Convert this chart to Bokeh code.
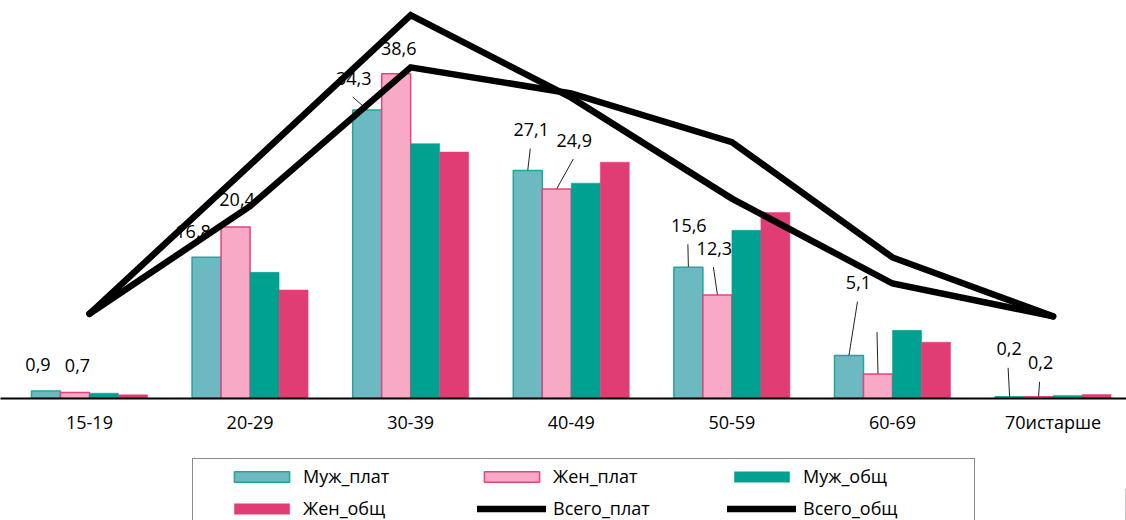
from bokeh.plotting import figure
from bokeh.layouts import column
from bokeh.models import Range1d, Legend, LegendItem, FixedTicker, ColumnDataSource
from bokeh.core.properties import value
from bokeh.embed import file_html
from bokeh.resources import INLINE

# ---------------- data ----------------
categories = ["15-19", "20-29", "30-39", "40-49", "50-59", "60-69", "70истарше"]
muzh_plat = [0.9, 16.8, 34.3, 27.1, 15.6, 5.1, 0.2]
zhen_plat = [0.7, 20.4, 38.6, 24.9, 12.3, 2.9, 0.2]
muzh_obshch = [0.63, 15.0, 30.3, 25.6, 20.0, 8.1, 0.36]
zhen_obshch = [0.44, 12.9, 29.3, 28.1, 22.1, 6.7, 0.48]
vsego_plat = [0.8, 18.5, 36.3, 26.5, 14.5, 4.4, 0.5]
vsego_obshch = [0.8, 13.6, 30.1, 27.0, 21.2, 7.5, 0.5]

# which data labels are shown (Муж_плат, Жен_плат)
show_label_m = [True, True, True, True, True, True, True]
show_label_f = [True, True, True, True, True, False, True]
leader_m = [False, False, True, True, True, True, True]
leader_f = [False, False, False, True, True, True, True]

# ---------------- layout / style ----------------
W = 1126
H_MAIN, FRAME_H = 457, 398
H_LEG = 63
X0, X1 = -0.554, 6.457
Y0, Y1 = 0.0, 47.32
Y2_0, Y2_1 = -9.27, 38.05
BAR_W = 0.1806
offsets = [-1.5 * BAR_W, -0.5 * BAR_W, 0.5 * BAR_W, 1.5 * BAR_W]
FONT = "Open Sans"

# label offsets in pixels (dx, dy) from the top centre of the bar
lab_off_m = [(-8, -26), (-13.5, -26), (-13.5, -32), (3.5, -41), (0.5, -42), (9.5, -73), (-0.5, -48)]
lab_off_f = [(2.5, -27), (1.5, -27), (2.5, -25), (17.5, -49), (-3, -47), (0, -61), (2, -34)]

px_x = (X1 - X0) / W
px_y = (Y1 - Y0) / FRAME_H

p = figure(width=W, height=H_MAIN, x_range=Range1d(X0, X1), y_range=Range1d(Y0, Y1),
           output_backend="svg", toolbar_location=None,
           min_border_left=0, min_border_right=0, min_border_top=0,
           min_border_bottom=H_MAIN - FRAME_H)
p.extra_y_ranges = {"lines": Range1d(Y2_0, Y2_1)}
p.outline_line_color = None
p.xgrid.visible = False
p.ygrid.visible = False
p.yaxis.visible = False
p.background_fill_color = "white"

xs = list(range(len(categories)))

series = [
    ("Муж_плат", muzh_plat, "#6CB9C2", "#1FA797", 1.5),
    ("Жен_плат", zhen_plat, "#F7A9C5", "#E5447C", 1.5),
    ("Муж_общ", muzh_obshch, "#00A190", "#00A190", 0.5),
    ("Жен_общ", zhen_obshch, "#E13D75", "#E13D75", 0.5),
]
for (name, vals, fill, line, lw), off in zip(series, offsets):
    src = ColumnDataSource(dict(x=[x + off for x in xs], top=vals))
    p.vbar(x="x", top="top", bottom=0, width=BAR_W, source=src,
           fill_color=fill, line_color=line, line_width=lw)

# leader lines and data labels
def add_labels(vals, off, offs, show, leaders):
    lx, ly, lt, dxs, dys = [], [], [], [], []
    sx0, sy0, sx1, sy1 = [], [], [], []
    for i, v in enumerate(vals):
        bx = xs[i] + off
        dx, dy = offs[i]
        if show[i]:
            lx.append(bx); ly.append(v)
            lt.append(f"{v:.1f}".replace(".", ","))
            dxs.append(dx); dys.append(dy)
        if leaders[i]:
            sx0.append(bx + (dx - 1) * px_x)
            sy0.append(v - (dy + 19) * px_y)
            sx1.append(bx)
            sy1.append(v + 0.05)
    p.segment(x0=sx0, y0=sy0, x1=sx1, y1=sy1, line_color="#222222", line_width=1)
    src = ColumnDataSource(dict(x=lx, y=ly, t=lt, dx=dxs, dy=dys))
    p.text(x="x", y="y", text="t", x_offset="dx", y_offset="dy", source=src,
           text_font=value(FONT), text_font_size="18px", text_color="black",
           text_align="center", text_baseline="middle")

add_labels(muzh_plat, offsets[0], lab_off_m, show_label_m, leader_m)
add_labels(zhen_plat, offsets[1], lab_off_f, show_label_f, leader_f)

# total lines on a secondary (hidden) scale
line_style = dict(line_color="black", line_width=6.5, line_join="miter", line_cap="round")
p.line(xs, vsego_plat, y_range_name="lines", **line_style)
p.line(xs, vsego_obshch, y_range_name="lines", **line_style)

# x axis
ax = p.xaxis[0]
ax.ticker = FixedTicker(ticks=xs)
ax.major_label_overrides = {i: c for i, c in enumerate(categories)}
ax.axis_line_color = "black"
ax.axis_line_width = 2
ax.major_tick_line_color = None
ax.minor_tick_line_color = None
ax.major_tick_out = 0
ax.major_tick_in = 0
ax.major_label_standoff = 11
ax.major_label_text_font = FONT
ax.major_label_text_font_size = "18px"
ax.major_label_text_color = "black"

# ---------------- legend strip (separate canvas below the chart) ----------------
p2 = figure(width=W, height=H_LEG, x_range=Range1d(0, 1), y_range=Range1d(0, 1),
            output_backend="svg", toolbar_location=None,
            x_axis_location=None, y_axis_location=None,
            min_border_left=0, min_border_right=0, min_border_top=0, min_border_bottom=0)
p2.outline_line_color = None
p2.grid.visible = False

# legend-only renderers: a single point placed outside the visible range
leg_renderers = []
for name, vals, fill, line, lw in series:
    r = p2.vbar(x=[5], top=[0.5], bottom=0, width=0.1,
                fill_color=fill, line_color=line, line_width=lw)
    leg_renderers.append((name, r))
rl1 = p2.line(x=[5, 6], y=[5, 5], **line_style)
rl2 = p2.line(x=[5, 6], y=[5, 5], **line_style)
leg_renderers += [("Всего_плат", rl1), ("Всего_общ", rl2)]

items = [LegendItem(label=n, renderers=[r]) for n, r in leg_renderers]
legend = Legend(items=items, orientation="horizontal", ncols=3,
                location=(192, -6), border_line_color="#1a1a1a", border_line_width=1.5,
                background_fill_alpha=0, padding=5, margin=0, spacing=8,
                glyph_width=69, glyph_height=13, label_standoff=7,
                label_width=166, label_height=20,
                title=" ", title_location="left", title_standoff=27,
                title_text_font_size="2px",
                label_text_font=FONT, label_text_font_size="18px",
                label_text_color="black")
p2.add_layout(legend)

layout = column(p, p2, spacing=0)
open("out.html", "w").write(file_html(layout, INLINE))
